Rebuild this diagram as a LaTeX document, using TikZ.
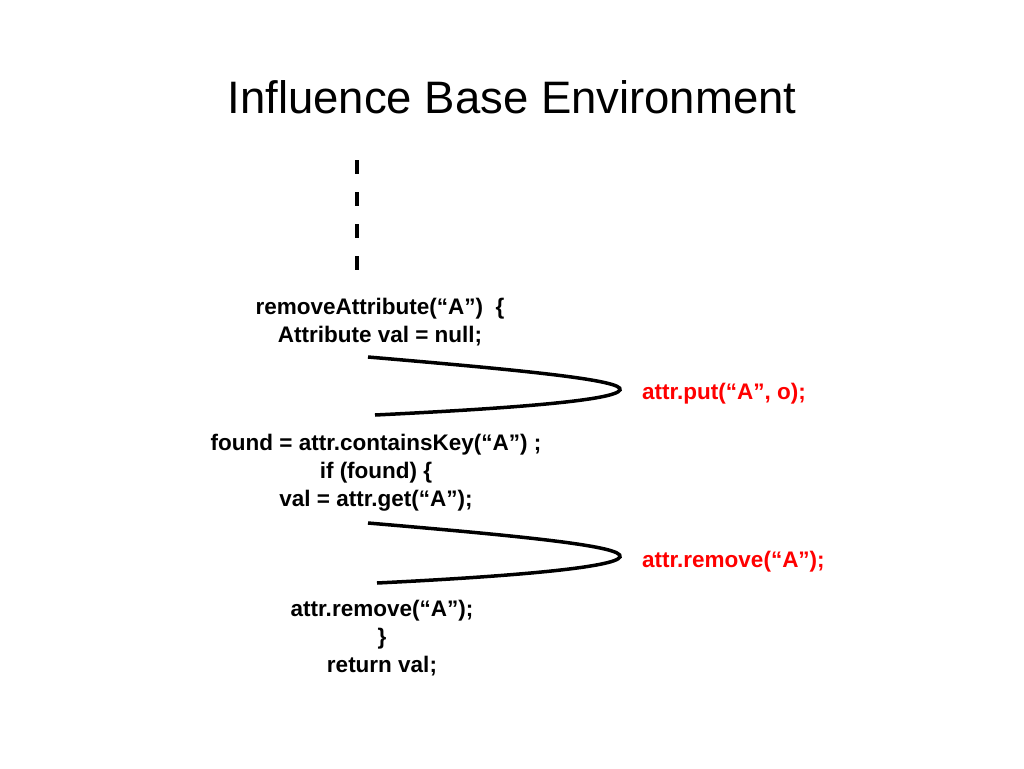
\documentclass[tikz,border=0pt]{standalone}
\usepackage{fontspec}
\setmainfont{Liberation Sans}
\begin{document}
\begin{tikzpicture}[x=1pt,y=-1pt,
  code/.style={font=\fontsize{22.5}{28}\selectfont\bfseries,align=center,inner sep=0},
  red code/.style={code,text=red,anchor=west},
  arc/.style={line width=3.5pt}]
\useasboundingbox (0,0) rectangle (1024,768);
\node[font=\fontsize{45.5}{52}\selectfont,inner sep=0] (title) at (512,97) {Influence Base Environment};
\coordinate (d1) at (357,160);
\coordinate (d2) at (357,272);
\draw[line width=4.5pt,dash pattern=on 14pt off 18pt] (d1) -- (d2);
\node[code] (t1) at (380,322) {removeAttribute(“A”)\ \ \{\\Attribute val = null;};
\node[code] (t2) at (376,473) {found = attr.containsKey(“A”) ;\\if (found) \{\\val = attr.get(“A”);};
\node[code] (t3) at (382,638) {attr.remove(“A”);\\\}\\return val;};
\node[red code] (r1) at (642,394) {attr.put(“A”, o);};
\node[red code] (r2) at (642,562) {attr.remove(“A”);};
\coordinate (a1) at (368,357); \coordinate (a2) at (375,415);
\coordinate (b1) at (368,523); \coordinate (b2) at (377,583);
\draw[arc] (a1) .. controls (520,370) and (625,380) .. (620,390) .. controls (615,400) and (520,408) .. (a2);
\draw[arc] (b1) .. controls (520,536) and (625,546) .. (620,557) .. controls (615,567) and (520,576) .. (b2);
\end{tikzpicture}
\end{document}
